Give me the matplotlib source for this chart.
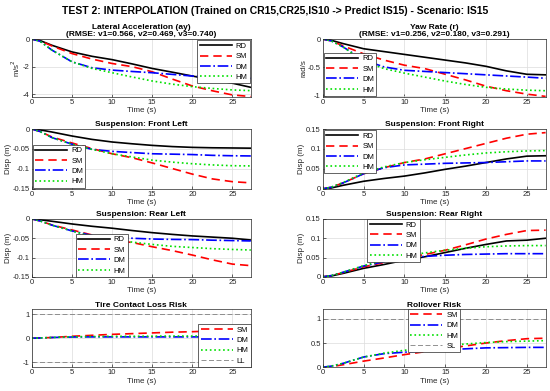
import numpy as np
import matplotlib
matplotlib.use('Agg')
import matplotlib.pyplot as plt

plt.rcParams['font.family'] = ['Liberation Sans', 'DejaVu Sans']

t = [0, 1, 2.5, 5, 7.5, 10, 12.5, 15, 17.5, 20, 22.5, 25, 27.3]

# lateral acceleration
ay_rd = [0, -0.1, -0.45, -0.93, -1.25, -1.49, -1.8, -2.13, -2.4, -2.68, -2.95, -3.2, -3.5]
ay_sm = [0, -0.12, -0.5, -1.05, -1.45, -1.77, -2.0, -2.37, -2.9, -3.4, -3.75, -4.05, -4.17]
ay_dm = [0, -0.15, -0.8, -1.65, -2.08, -2.25, -2.35, -2.44, -2.56, -2.68, -2.75, -2.8, -2.85]
ay_hm = [0, -0.15, -0.8, -1.65, -2.13, -2.44, -2.75, -3.04, -3.27, -3.45, -3.58, -3.69, -3.74]

# yaw rate
r_rd = [0, -0.02, -0.08, -0.17, -0.22, -0.27, -0.32, -0.37, -0.42, -0.48, -0.56, -0.62, -0.63]
r_sm = [0, -0.03, -0.12, -0.26, -0.37, -0.46, -0.52, -0.62, -0.72, -0.83, -0.91, -0.97, -1.01]
r_dm = [0, -0.03, -0.14, -0.37, -0.49, -0.55, -0.57, -0.59, -0.61, -0.63, -0.65, -0.67, -0.69]
r_hm = [0, -0.03, -0.14, -0.39, -0.52, -0.6, -0.67, -0.74, -0.8, -0.85, -0.88, -0.9, -0.91]

# suspension front left
fl_rd = [0, -0.002, -0.0075, -0.0175, -0.026, -0.0325, -0.037, -0.041, -0.044, -0.046, -0.047, -0.0475, -0.048]
fl_sm = [0, -0.006, -0.02, -0.035, -0.049, -0.062, -0.072, -0.085, -0.099, -0.113, -0.125, -0.132, -0.135]
fl_dm = [0, -0.006, -0.0215, -0.038, -0.051, -0.056, -0.059, -0.062, -0.063, -0.064, -0.066, -0.067, -0.0675]
fl_hm = [0, -0.006, -0.0215, -0.038, -0.051, -0.062, -0.07, -0.078, -0.083, -0.087, -0.09, -0.092, -0.0925]

# suspension front right
fr_rd = [0, 0.002, 0.009, 0.019, 0.026, 0.032, 0.04, 0.049, 0.057, 0.066, 0.075, 0.082, 0.083]
fr_sm = [0, 0.004, 0.015, 0.038, 0.053, 0.066, 0.075, 0.088, 0.101, 0.114, 0.127, 0.137, 0.141]
fr_dm = [0, 0.004, 0.015, 0.038, 0.053, 0.06, 0.062, 0.064, 0.065, 0.066, 0.068, 0.07, 0.07]
fr_hm = [0, 0.004, 0.016, 0.04, 0.055, 0.066, 0.073, 0.079, 0.085, 0.09, 0.093, 0.095, 0.096]

# suspension rear left
rl_rd = [0, -0.002, -0.006, -0.013, -0.019, -0.024, -0.03, -0.0355, -0.04, -0.044, -0.047, -0.05, -0.0545]
rl_sm = [0, -0.005, -0.0155, -0.0285, -0.0415, -0.0545, -0.061, -0.072, -0.082, -0.0935, -0.106, -0.117, -0.121]
rl_dm = [0, -0.005, -0.016, -0.031, -0.043, -0.0475, -0.05, -0.052, -0.053, -0.0535, -0.055, -0.056, -0.057]
rl_hm = [0, -0.005, -0.016, -0.031, -0.046, -0.053, -0.06, -0.066, -0.071, -0.074, -0.077, -0.079, -0.0805]

# suspension rear right
rr_rd = [0, 0.002, 0.009, 0.022, 0.032, 0.043, 0.052, 0.063, 0.074, 0.084, 0.093, 0.095, 0.1]
rr_sm = [0, 0.003, 0.011, 0.026, 0.037, 0.048, 0.058, 0.069, 0.083, 0.098, 0.11, 0.12, 0.121]
rr_dm = [0, 0.003, 0.012, 0.028, 0.039, 0.048, 0.053, 0.056, 0.058, 0.059, 0.06, 0.06, 0.06]
rr_hm = [0, 0.003, 0.012, 0.029, 0.043, 0.054, 0.062, 0.069, 0.074, 0.078, 0.08, 0.081, 0.081]

# tire contact loss risk
tc_sm = [0, 0.01, 0.03, 0.08, 0.12, 0.16, 0.19, 0.22, 0.25, 0.27, 0.3, 0.33, 0.34]
tc_dm = [0, 0.01, 0.03, 0.05, 0.055, 0.055, 0.055, 0.055, 0.055, 0.055, 0.055, 0.055, 0.055]
tc_hm = [0, 0.01, 0.03, 0.06, 0.07, 0.08, 0.08, 0.085, 0.09, 0.09, 0.095, 0.1, 0.1]

# rollover risk
ro_sm = [0, 0.01, 0.05, 0.125, 0.19, 0.26, 0.32, 0.38, 0.44, 0.5, 0.55, 0.59, 0.6]
ro_dm = [0, 0.02, 0.08, 0.21, 0.28, 0.31, 0.34, 0.36, 0.38, 0.4, 0.405, 0.41, 0.41]
ro_hm = [0, 0.02, 0.08, 0.21, 0.29, 0.35, 0.4, 0.45, 0.48, 0.51, 0.53, 0.54, 0.55]

fig = plt.figure(figsize=(5.5, 3.91), dpi=100)

lx = [0.058, 0.587]
ws = [0.398, 0.405]
rows = [(0.752, 0.148), (0.517, 0.153), (0.292, 0.148), (0.061, 0.148)]

axc = '#262626'
fs = 5.5

def setup(ax, title, ylab, ylim, yticks):
    ax.set_xlim(0, 27.3)
    ax.set_ylim(ylim)
    ax.set_xticks([0, 5, 10, 15, 20, 25])
    ax.set_yticks(yticks)
    ax.grid(True, color='#dcdcdc', linewidth=0.5)
    ax.set_axisbelow(True)
    ax.tick_params(direction='in', length=2, width=0.5, labelsize=fs, colors=axc, pad=1.5)
    for s in ax.spines.values():
        s.set_linewidth(0.5)
        s.set_color(axc)
    ax.set_title(title, fontsize=6, fontweight='bold', pad=2, linespacing=1.1)
    ax.set_xlabel('Time (s)', fontsize=fs + 0.3, color=axc, labelpad=1)
    if ylab:
        ax.set_ylabel(ylab, fontsize=fs + 0.3, color=axc, labelpad=0.5)

def four(ax, rd, sm, dm, hm):
    ax.plot(t, rd, color='k', lw=1.2, label='RD')
    ax.plot(t, sm, color='r', lw=1.2, ls=(0, (5, 3)), label='SM')
    ax.plot(t, dm, color='b', lw=1.2, ls='-.', label='DM')
    ax.plot(t, hm, color='#00e000', lw=1.2, ls=':', label='HM')

def leg(ax, loc, anchor=None, pad=0.3):
    if anchor is None:
        l = ax.legend(loc=loc, fontsize=5.5, handlelength=4.2, borderpad=0.3, labelspacing=0.4,
                      handletextpad=0.5, fancybox=False, framealpha=1, borderaxespad=pad)
    else:
        l = ax.legend(loc=loc, bbox_to_anchor=anchor, fontsize=5.5, handlelength=4.2, borderpad=0.3,
                      labelspacing=0.4, handletextpad=0.5, fancybox=False, framealpha=1,
                      borderaxespad=pad)
    l.get_frame().set_linewidth(0.5)
    l.get_frame().set_edgecolor(axc)

ax = fig.add_axes([lx[0], rows[0][0], ws[0], rows[0][1]])
four(ax, ay_rd, ay_sm, ay_dm, ay_hm)
setup(ax, 'Lateral Acceleration (ay)\n(RMSE: v1=0.566, v2=0.469, v3=0.740)', 'm/s$^2$', (-4.2, 0), [-4, -2, 0])
ax.set_yticklabels(['-4', '-2', '0'])
leg(ax, 'upper right', pad=0.15)

ax = fig.add_axes([lx[1], rows[0][0], ws[1], rows[0][1]])
four(ax, r_rd, r_sm, r_dm, r_hm)
setup(ax, 'Yaw Rate (r)\n(RMSE: v1=0.256, v2=0.180, v3=0.291)', 'rad/s', (-1.02, 0), [-1, -0.5, 0])
ax.set_yticklabels(['-1', '-0.5', '0'])
leg(ax, 'lower left', pad=0.15)

ax = fig.add_axes([lx[0], rows[1][0], ws[0], rows[1][1]])
four(ax, fl_rd, fl_sm, fl_dm, fl_hm)
setup(ax, 'Suspension: Front Left', 'Disp (m)', (-0.15, 0), [-0.15, -0.1, -0.05, 0])
ax.set_yticklabels(['-0.15', '-0.1', '-0.05', '0'])
leg(ax, 'lower left', pad=0.15)

ax = fig.add_axes([lx[1], rows[1][0], ws[1], rows[1][1]])
four(ax, fr_rd, fr_sm, fr_dm, fr_hm)
setup(ax, 'Suspension: Front Right', 'Disp (m)', (0, 0.15), [0, 0.05, 0.1, 0.15])
ax.set_yticklabels(['0', '0.05', '0.1', '0.15'])
leg(ax, 'upper left', pad=0.15)

ax = fig.add_axes([lx[0], rows[2][0], ws[0], rows[2][1]])
four(ax, rl_rd, rl_sm, rl_dm, rl_hm)
setup(ax, 'Suspension: Rear Left', 'Disp (m)', (-0.15, 0), [-0.15, -0.1, -0.05, 0])
ax.set_yticklabels(['-0.15', '-0.1', '-0.05', '0'])
leg(ax, 'lower left', anchor=(0.2, 0.0), pad=0.0)

ax = fig.add_axes([lx[1], rows[2][0], ws[1], rows[2][1]])
four(ax, rr_rd, rr_sm, rr_dm, rr_hm)
setup(ax, 'Suspension: Rear Right', 'Disp (m)', (0, 0.15), [0, 0.05, 0.1, 0.15])
ax.set_yticklabels(['0', '0.05', '0.1', '0.15'])
leg(ax, 'upper left', anchor=(0.2, 1.0), pad=0.0)

ax = fig.add_axes([lx[0], rows[3][0], ws[0], rows[3][1]])
ax.plot(t, tc_sm, color='r', lw=1.2, ls=(0, (5, 3)), label='SM')
ax.plot(t, tc_dm, color='b', lw=1.2, ls='-.', label='DM')
ax.plot(t, tc_hm, color='#00e000', lw=1.2, ls=':', label='HM')
ax.axhline(1, color='#808080', lw=0.6, ls=(0, (6, 3)), label='LL')
ax.axhline(-1, color='#808080', lw=0.6, ls=(0, (6, 3)))
setup(ax, 'Tire Contact Loss Risk', None, (-1.2, 1.2), [-1, 0, 1])
ax.set_yticklabels(['-1', '0', '1'])
leg(ax, 'lower right', pad=0.0)

ax = fig.add_axes([lx[1], rows[3][0], ws[1], rows[3][1]])
ax.plot(t, ro_sm, color='r', lw=1.2, ls=(0, (5, 3)), label='SM')
ax.plot(t, ro_dm, color='b', lw=1.2, ls='-.', label='DM')
ax.plot(t, ro_hm, color='#00e000', lw=1.2, ls=':', label='HM')
ax.axhline(1, color='#808080', lw=0.6, ls=(0, (6, 3)), label='SL')
setup(ax, 'Rollover Risk', None, (0, 1.2), [0, 0.5, 1])
ax.set_yticklabels(['0', '0.5', '1'])
leg(ax, 'upper center', pad=0.0)

fig.suptitle('TEST 2: INTERPOLATION (Trained on CR15,CR25,IS10 -> Predict IS15) - Scenario: IS15',
             fontsize=7.5, fontweight='bold', y=0.985)

fig.savefig('out.png', dpi=100)
